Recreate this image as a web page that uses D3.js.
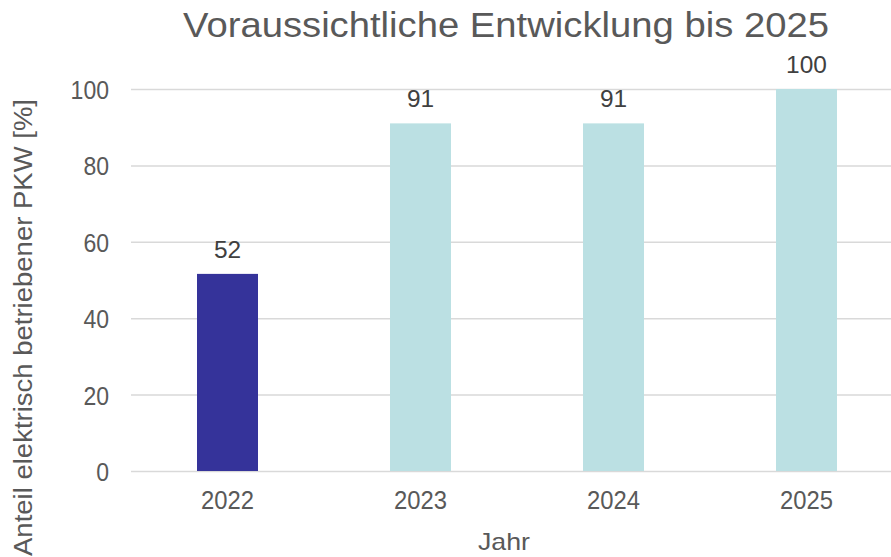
<!DOCTYPE html>
<html><head><meta charset="utf-8">
<script src="https://cdn.jsdelivr.net/npm/d3@7"></script>
<style>body{margin:0;background:#fff}svg{display:block}text{font-family:"Liberation Sans",Arial,sans-serif}</style>
</head><body><svg id="c" width="891" height="557"></svg>
<script>
const categories = ["2022","2023","2024","2025"];
const values = [51.6, 91, 91, 100];
const barColors = ["#35339a","#bbe0e3","#bbe0e3","#bbe0e3"];
const yTicks = [0,20,40,60,80,100];

const svg = d3.select("#c");
const mLeft = 131, mRight = 903, mTop = 89, mBottom = 471;
const x = d3.scaleBand().domain(categories).range([mLeft, mRight]).paddingInner(0.684).paddingOuter(0.342);
const y = d3.scaleLinear().domain([0,100]).range([mBottom, mTop]);
const fmt = d3.format(".0f");

const grid = svg.append("g").attr("transform", `translate(${mLeft},0)`)
  .call(d3.axisRight(y).tickValues(yTicks).tickSize(mRight - mLeft).tickFormat(""));
grid.select(".domain").remove();
grid.selectAll("line").attr("stroke", "#d9d9d9").attr("stroke-width", 1.5);

svg.append("g").selectAll("rect").data(values).join("rect")
  .attr("x", (d,i)=>x(categories[i])).attr("width", x.bandwidth())
  .attr("y", d=>y(d)).attr("height", d=>y(0)-y(d))
  .attr("fill", (d,i)=>barColors[i]);

svg.append("g").selectAll("text").data(values).join("text")
  .attr("x", (d,i)=>x(categories[i])+x.bandwidth()/2).attr("y", d=>y(d)-16)
  .attr("text-anchor","middle").attr("font-size",24).attr("fill","#404040")
  .attr("textLength", d=>fmt(d).length*13.6).attr("lengthAdjust","spacingAndGlyphs")
  .text(d=>fmt(d));

const ya = svg.append("g").attr("transform", `translate(${mLeft},0)`)
  .call(d3.axisLeft(y).tickValues(yTicks).tickSize(0).tickPadding(22));
ya.select(".domain").remove();
ya.selectAll("text").attr("font-size",25).attr("fill","#595959").attr("font-family",null)
  .attr("dy", null).attr("y", 9.5)
  .attr("textLength", d=>String(d).length*12.8).attr("lengthAdjust","spacingAndGlyphs");

const xa = svg.append("g").attr("transform", `translate(0,${mBottom})`)
  .call(d3.axisBottom(x).tickSize(0).tickPadding(0));
xa.select(".domain").remove();
xa.selectAll("text").attr("font-size",25).attr("fill","#595959").attr("font-family",null)
  .attr("dy", null).attr("y", 38)
  .attr("textLength", 53).attr("lengthAdjust","spacingAndGlyphs");

svg.append("text").attr("x", 506).attr("y", 37).attr("text-anchor","middle")
  .attr("font-size",35).attr("fill","#595959")
  .attr("textLength", 646).attr("lengthAdjust","spacingAndGlyphs")
  .text("Voraussichtliche Entwicklung bis 2025");

svg.append("text").attr("x", 504).attr("y", 550).attr("text-anchor","middle")
  .attr("font-size",24).attr("fill","#595959")
  .attr("textLength", 52).attr("lengthAdjust","spacingAndGlyphs")
  .text("Jahr");

svg.append("text").attr("transform","translate(32,327.5) rotate(-90)").attr("text-anchor","middle")
  .attr("font-size",26).attr("fill","#595959")
  .attr("textLength", 457).attr("lengthAdjust","spacingAndGlyphs")
  .text("Anteil elektrisch betriebener PKW [%]");
</script></body></html>
